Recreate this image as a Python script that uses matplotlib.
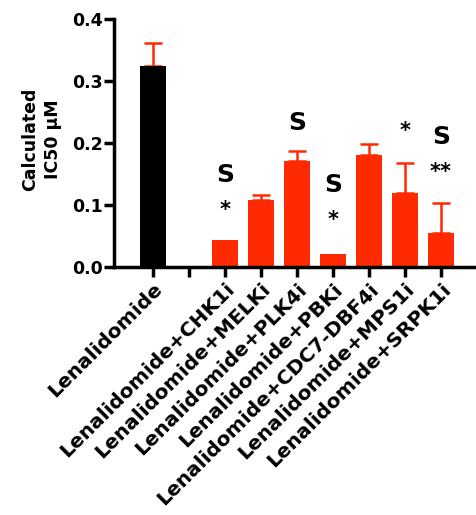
import numpy as np
import matplotlib.pyplot as plt

plt.rcParams['font.family'] = ['DejaVu Sans']
plt.rcParams['font.weight'] = 'bold'

# Bar data (blank slot between control and combos)
labels = ['Lenalidomide', '', 'Lenalidomide+CHK1i', 'Lenalidomide+MELKi',
          'Lenalidomide+PLK4i', 'Lenalidomide+PBKi', 'Lenalidomide+CDC7-DBF4i',
          'Lenalidomide+MPS1i', 'Lenalidomide+SRPK1i']
values = [0.324, 0.0, 0.0435, 0.108, 0.171, 0.021, 0.180, 0.119, 0.054]
errors = [0.037, 0.0, 0.0, 0.008, 0.016, 0.0, 0.018, 0.048, 0.049]
colors = ['black', 'none', '#ff2a00', '#ff2a00', '#ff2a00', '#ff2a00',
          '#ff2a00', '#ff2a00', '#ff2a00']

# significance marks: (bar index, y) and (bar index, text, y)
s_marks = [(2, 0.148), (4, 0.232), (5, 0.132), (8, 0.210)]
star_marks = [(2, '*', 0.092), (5, '*', 0.076), (7, '*', 0.220), (8, '**', 0.153)]

fig = plt.figure(figsize=(4.77, 5.15), dpi=100)
ax = fig.add_axes([0.239, 0.4816, 0.761, 0.4816])

x = np.arange(len(labels))
for i in x:
    if labels[i] == '':
        continue
    ax.bar(i, values[i], width=0.72, color=colors[i], zorder=2)
    if errors[i] > 0:
        ax.errorbar(i, values[i], yerr=[[0], [errors[i]]], fmt='none',
                    ecolor='#ff2a00', elinewidth=1.8, capsize=6.5,
                    capthick=1.8, zorder=1)

for i, y in s_marks:
    ax.text(i, y, 'S', ha='center', va='center', fontsize=18, fontweight='bold')
for i, t, y in star_marks:
    ax.text(i, y, t, ha='center', va='center', fontsize=15, fontweight='bold')

ax.set_xlim(-1.08, 9.0)
ax.set_ylim(0, 0.4)
ax.set_yticks([0.0, 0.1, 0.2, 0.3, 0.4])
ax.set_yticklabels(['0.0', '0.1', '0.2', '0.3', '0.4'], fontsize=12.5, fontweight='bold')
ax.set_xticks(x)
ax.set_xticklabels(labels, rotation=45, ha='right', rotation_mode='anchor',
                   fontsize=14.5, fontweight='bold')

for s in ['top', 'right']:
    ax.spines[s].set_visible(False)
for s in ['left', 'bottom']:
    ax.spines[s].set_linewidth(2.5)
ax.tick_params(width=2.5, length=7)
ax.tick_params(axis='y', pad=1)
ax.tick_params(axis='x', pad=2)

ax.set_ylabel('Calculated\nIC50 μM', fontsize=12.5, fontweight='bold', linespacing=1.35)
ax.yaxis.set_label_coords(-0.143, 0.515)

fig.savefig('out.png', dpi=100)
